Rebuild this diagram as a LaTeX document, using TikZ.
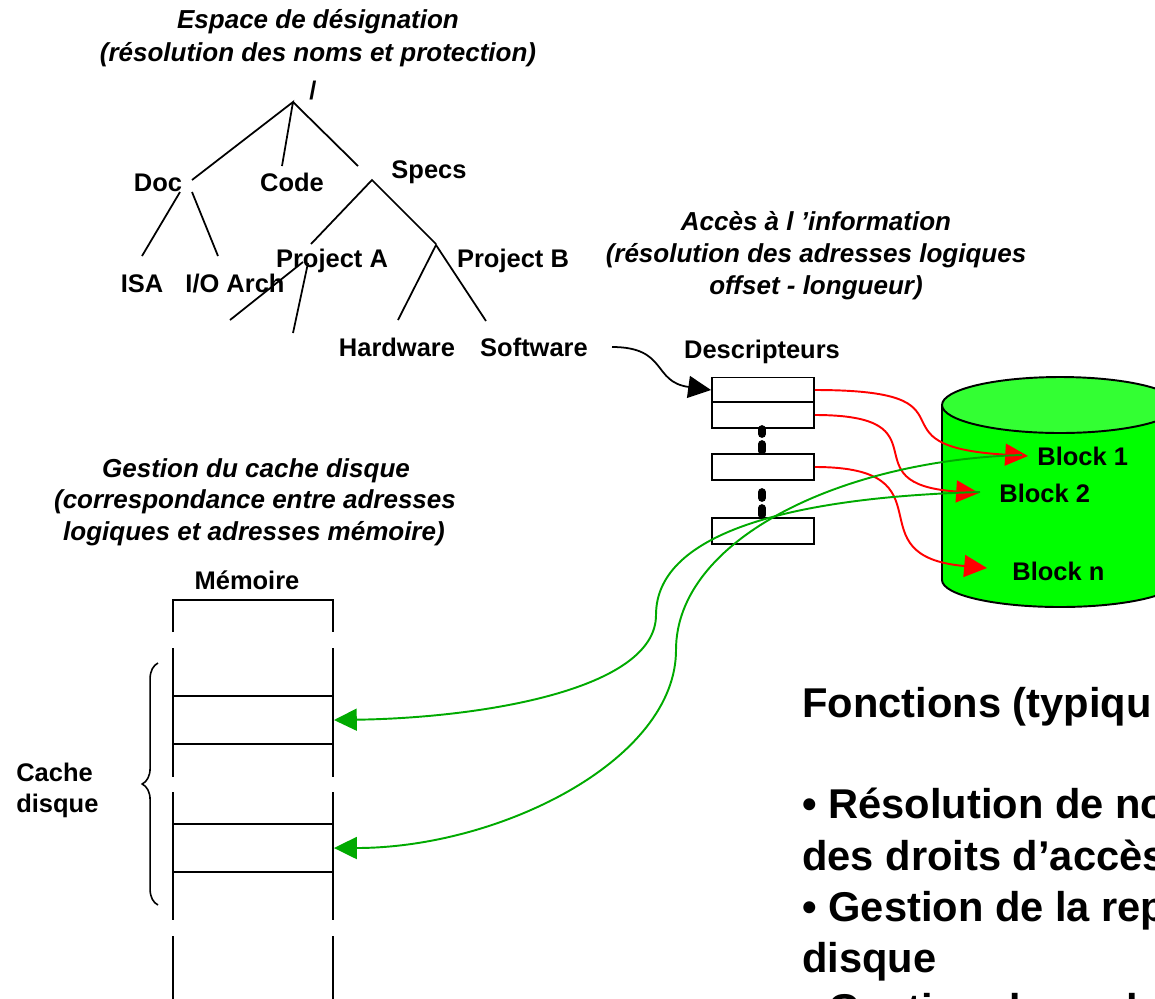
\documentclass[tikz,border=0pt]{standalone}
\usepackage{fontspec}
\setmainfont{Liberation Sans}
\usetikzlibrary{arrows.meta,decorations.pathreplacing}

\definecolor{diskbody}{RGB}{0,255,0}
\definecolor{disktop}{RGB}{51,255,51}
\definecolor{linkgreen}{RGB}{0,170,0}

\tikzset{
  lbl/.style={font=\bfseries\fontsize{14.5}{17}\selectfont, inner sep=0pt, anchor=base},
  ttl/.style={font=\bfseries\itshape\fontsize{14.8}{17}\selectfont, inner sep=0pt, anchor=base},
  big/.style={font=\bfseries\fontsize{23.7}{29}\selectfont, inner sep=0pt, anchor=base west},
  branch/.style={line width=1pt},
  desc/.style={draw, line width=1.1pt, minimum width=2.04cm, minimum height=0.5cm, inner sep=0pt},
  slot/.style={draw, line width=1.1pt, minimum width=3.2cm, minimum height=0.96cm, inner sep=0pt},
  bigtip/.style={-{Triangle[length=13pt,width=12.5pt]}},
  dots/.style={line width=4.4pt, line cap=round},
}

\begin{document}
\begin{tikzpicture}[x=0.02cm, y=-0.02cm]
  \useasboundingbox (0,0) rectangle (1155,998);

  % titles
  \node[ttl] (t1a) at (318,28) {Espace de désignation};
  \node[ttl] (t1b) at (318,61) {(résolution des noms et protection)};
  \node[ttl] (t2a) at (816,230) {Accès à l ’information};
  \node[ttl] (t2b) at (816,262) {(résolution des adresses logiques};
  \node[ttl] (t2c) at (816,294) {offset - longueur)};
  \node[ttl] (t3a) at (256,477) {Gestion du cache disque};
  \node[ttl] (t3b) at (255,508) {(correspondance entre adresses};
  \node[ttl] (t3c) at (254,540) {logiques et adresses mémoire)};

  % name tree
  \node[lbl] (root) at (313,99) {/};
  \node[lbl] (doc) at (158,191) {Doc};
  \node[lbl] (code) at (292,191) {Code};
  \node[lbl] (specs) at (429,178) {Specs};
  \node[lbl] (isa) at (142,292) {ISA};
  \node[lbl] (ioarch) at (235,292) {I/O Arch};
  \node[lbl] (proja) at (332,267) {Project A};
  \node[lbl] (projb) at (513,267) {Project B};
  \node[lbl] (hw) at (397,356) {Hardware};
  \node[lbl] (sw) at (534,356) {Software};

  \coordinate (r) at (293,102);
  \coordinate (rdoc) at (192,180);
  \coordinate (rcode) at (282,166);
  \coordinate (rspecs) at (358,166);
  \coordinate (s) at (372,180);
  \coordinate (sa) at (311,244);
  \coordinate (sb) at (436,244);
  \coordinate (d1) at (180,192);
  \coordinate (d2) at (192,192);
  \coordinate (disa) at (142,256);
  \coordinate (dio) at (218,256);
  \coordinate (pa1) at (303,262);
  \coordinate (pa2) at (308,263);
  \coordinate (pax) at (230,320);
  \coordinate (pay) at (293,333);
  \coordinate (pb) at (436,245);
  \coordinate (pbh) at (398,320);
  \coordinate (pbs) at (486,321);

  \draw[branch] (rdoc) -- (r) -- (rcode) (r) -- (rspecs);
  \draw[branch] (sa) -- (s) -- (sb);
  \draw[branch] (d1) -- (disa) (d2) -- (dio);
  \draw[branch] (pa1) -- (pax) (pa2) -- (pay);
  \draw[branch] (pbh) -- (pb) -- (pbs);

  % descriptors
  \node[lbl] (desclbl) at (762,358) {Descripteurs};
  \node[desc] (e1) at (763,390) {};
  \node[desc, minimum height=0.52cm] (e2) at (763,415) {};
  \node[desc, minimum height=0.52cm] (e3) at (763,467) {};
  \node[desc, minimum height=0.52cm] (e4) at (763,531) {};
  \draw[dots] (762,429) -- (762,434) (762,444) -- (762,451);
  \draw[dots] (762,492) -- (762,498) (762,508) -- (762,515);

  \coordinate (swout) at (612,347);
  \draw[line width=1pt, bigtip] (swout) .. controls (668,347) and (652,382) .. (e1.west);

  % disk
  \fill[diskbody] (942,405) -- (942,580) arc[start angle=180, end angle=360, x radius=2.36cm, y radius=0.54cm] -- (1178,405) -- cycle;
  \draw[line width=1.1pt] (942,405) -- (942,580) arc[start angle=180, end angle=360, x radius=2.36cm, y radius=0.54cm] -- (1178,405);
  \draw[line width=1.1pt, fill=disktop] (1060,405) ellipse [x radius=2.36cm, y radius=0.56cm];

  \node[lbl, anchor=base west] (b1) at (1037,465) {Block 1};
  \node[lbl, anchor=base west] (b2) at (999,502) {Block 2};
  \node[lbl, anchor=base west] (bn) at (1012,580) {Block n};
  \coordinate (b1in) at (1028,456);
  \coordinate (b2in) at (979,493);
  \coordinate (bnin) at (987,568);

  \draw[red, line width=1.1pt, bigtip] (e1.east) .. controls (990,390) and (860,446) .. (b1in);
  \draw[red, line width=1.1pt, bigtip] (e2.east) .. controls (950,415) and (845,484) .. (b2in);
  \draw[red, line width=1.1pt, bigtip] (e3.east) .. controls (955,467) and (850,556) .. (bnin);

  % memory
  \node[lbl] (mem) at (247,589) {Mémoire};
  \draw[line width=1.1pt] (173,632) -- (173,600) -- (333,600) -- (333,632);
  \foreach \ya/\yb in {648/777, 792/920, 936/1000} {
    \draw[line width=1.1pt] (173,\ya) -- (173,\yb) (333,\ya) -- (333,\yb);
  }
  \node[slot] (ma) at (253,720) {};
  \node[slot] (mb) at (253,848) {};

  \draw[line width=0.9pt, decorate, decoration={brace, amplitude=9pt}] (158,905) -- (158,663);
  \node[lbl, anchor=base west] (cache1) at (16,781) {Cache};
  \node[lbl, anchor=base west] (cache2) at (16,812) {disque};

  \coordinate (g1) at (1022,455);
  \coordinate (g2) at (980,492);
  \coordinate (g1mid) at (676,650);
  \coordinate (g2mid) at (656,615);
  \draw[linkgreen, line width=1.1pt, bigtip] (g2) .. controls (800,497) and (656,530) .. (g2mid)
     .. controls (656,690) and (480,718) .. (ma.east);
  \draw[linkgreen, line width=1.1pt, bigtip] (g1) .. controls (840,460) and (676,540) .. (g1mid)
     .. controls (676,760) and (500,848) .. (mb.east);

  % functions
  \node[big] (f1) at (802,717) {Fonctions (typiqu};
  \node[big] (f2) at (802,818) {• Résolution de no};
  \node[big] (f3) at (802,870) {des droits d’accès};
  \node[big] (f4) at (802,921) {• Gestion de la rep};
  \node[big] (f5) at (802,972) {disque};
  \node[big] (f6) at (802,1023) {• Gestion du cache};
\end{tikzpicture}
\end{document}
